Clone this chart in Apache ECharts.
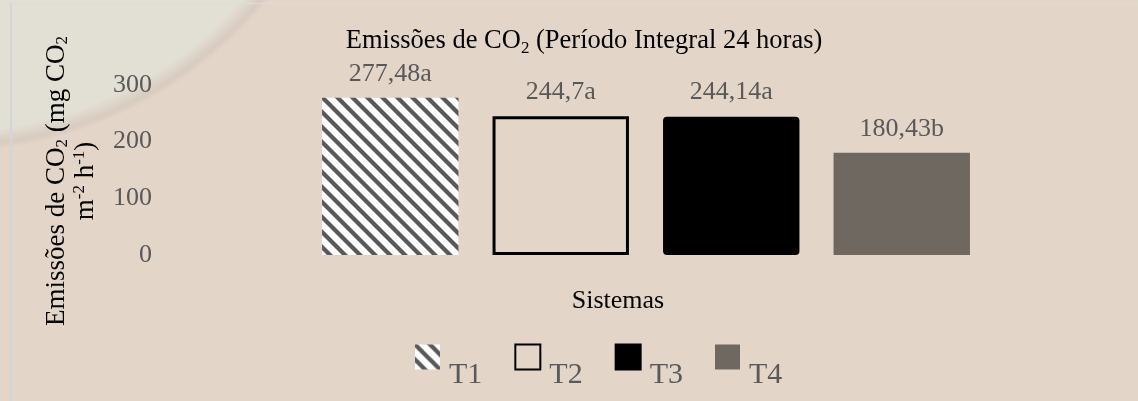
<!DOCTYPE html>
<html>
<head>
<meta charset="utf-8">
<script src="https://cdn.jsdelivr.net/npm/echarts@6/dist/echarts.min.js"></script>
<style>
html,body{margin:0;padding:0;}
body{width:1138px;height:401px;overflow:hidden;
background: radial-gradient(circle 410px at -50px -258px, #e2dfd5 0, #e2dfd5 95%, #d8cbbf 98.5%, #e3d5c8 100%), #e3d5c8;}
#frame{position:absolute;left:10px;top:3px;width:1128px;height:398px;border-left:2px solid #d2d5d9;border-top:1px solid #dcdcdc;box-sizing:border-box;}
#chart{position:absolute;left:0;top:0;width:1138px;height:401px;}
</style>
</head>
<body>
<div id="frame"></div>
<div id="chart"></div>
<script>
// ---- data ----
var categories = ['T1', 'T2', 'T3', 'T4'];
var values = [277.48, 244.7, 244.14, 180.43];
var valueLabels = ['277,48a', '244,7a', '244,14a', '180,43b'];
var yTicks = [0, 100, 200, 300];

// ---- pattern for T1 ----
function makeStripe() {
  var s = 15;
  var c = document.createElement('canvas');
  c.width = s; c.height = s;
  var g = c.getContext('2d');
  g.fillStyle = '#ffffff';
  g.fillRect(0, 0, s, s);
  g.strokeStyle = '#595959';
  g.lineWidth = 4.2;
  for (var k = -1; k <= 1; k++) {
    g.beginPath();
    g.moveTo(k * s - 2, -2);
    g.lineTo(k * s + s + 2, s + 2);
    g.stroke();
  }
  return c;
}
var stripe = makeStripe();

var styles = [
  { color: { image: stripe, repeat: 'repeat' } },
  { color: 'rgba(0,0,0,0)', borderColor: '#000000', borderWidth: 3 },
  { color: '#000000', borderColor: '#000000', borderWidth: 2, borderRadius: 3 },
  { color: '#6f6861' }
];

var serif = '"Liberation Serif", "Times New Roman", serif';

var series = categories.map(function (name, i) {
  var d = categories.map(function (c, j) { return j === i ? values[i] : null; });
  return {
    name: name,
    type: 'bar',
    stack: 'all',
    barWidth: '80%',
    data: d,
    itemStyle: styles[i],
    label: {
      show: true,
      position: 'top',
      distance: 11,
      fontFamily: serif,
      fontSize: 26,
      color: '#595959',
      formatter: function () { return valueLabels[i]; }
    }
  };
});

var chart = echarts.init(document.getElementById('chart'), null, { renderer: 'canvas' });
chart.setOption({
  backgroundColor: 'transparent',
  animation: false,
  title: {
    text: 'Emissões de CO{sub|2} (Período Integral 24 horas)',
    left: 579,
    top: 20,
    textAlign: 'center',
    textStyle: {
      fontFamily: serif,
      fontSize: 26.5,
      fontWeight: 'normal',
      color: '#000000',
      lineHeight: 32,
      rich: {
        sub: { fontFamily: serif, fontSize: 17, color: '#000', verticalAlign: 'bottom', lineHeight: 32 }
      }
    }
  },
  grid: { left: 305, right: 151, top: 85, height: 170 },
  xAxis: {
    type: 'category',
    data: categories,
    axisLine: { show: false },
    axisTick: { show: false },
    axisLabel: { show: false }
  },
  yAxis: {
    type: 'value',
    min: 0,
    max: 300,
    interval: 100,
    axisLine: { show: false },
    axisTick: { show: false },
    splitLine: { show: false },
    axisLabel: {
      margin: 153,
      fontFamily: serif,
      fontSize: 26,
      color: '#595959',
      formatter: function (v) { return yTicks.indexOf(v) >= 0 ? String(v) : ''; }
    }
  },
  legend: {
    data: categories,
    left: 410,
    top: 316,
    itemWidth: 25,
    itemHeight: 25,
    itemGap: 32,
    icon: 'rect',
    formatter: function (name) { return '\n' + name; },
    textStyle: {
      fontFamily: serif,
      fontSize: 30,
      lineHeight: 36,
      color: '#595959',
      padding: [0, 0, 0, 4]
    }
  },
  graphic: [
    {
      type: 'text',
      x: 618,
      y: 301,
      style: {
        text: 'Sistemas',
        fontFamily: serif,
        fontSize: 26,
        fill: '#000000',
        align: 'center',
        verticalAlign: 'middle'
      }
    },
    {
      type: 'text',
      x: 71,
      y: 181,
      rotation: Math.PI / 2,
      style: {
        text: 'Emissões de CO{sub|2} (mg CO{sub|2}\nm{sup|-2} h{sup|-1})',
        fontFamily: serif,
        fontSize: 27,
        lineHeight: 29,
        fill: '#000000',
        align: 'center',
        verticalAlign: 'middle',
        rich: {
          sub: { fontFamily: serif, fontSize: 17, fill: '#000', verticalAlign: 'bottom', lineHeight: 29 },
          sup: { fontFamily: serif, fontSize: 17, fill: '#000', verticalAlign: 'top', lineHeight: 29 }
        }
      }
    }
  ],
  series: series
});
</script>
</body>
</html>
